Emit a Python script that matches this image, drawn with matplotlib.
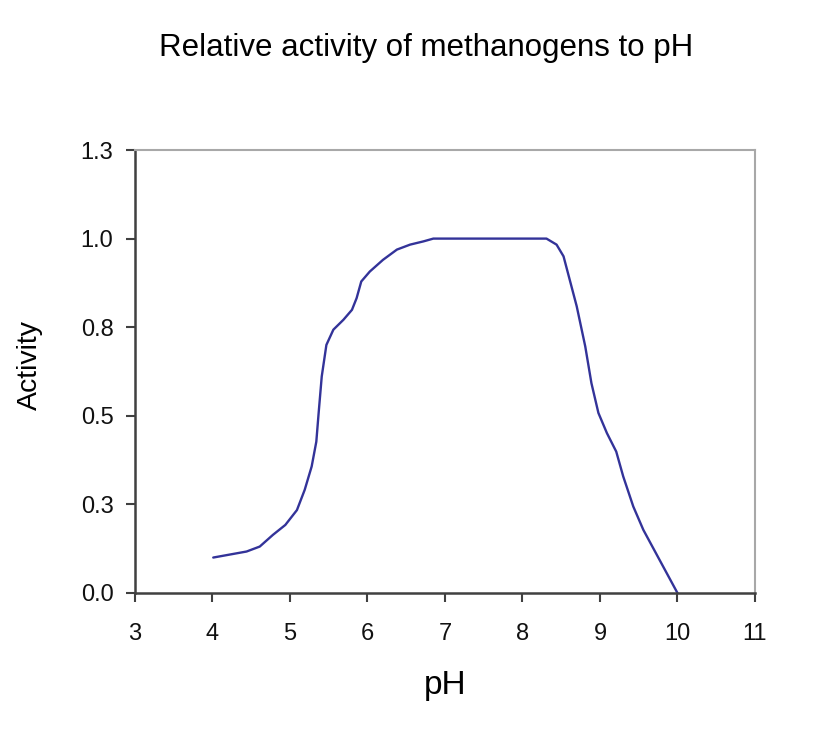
import matplotlib
matplotlib.use("Agg")
import matplotlib.pyplot as plt

plt.rcParams["font.family"] = ["Liberation Sans", "DejaVu Sans"]

# pH vs relative activity
ph = [4.01, 4.44, 4.61, 4.78, 4.94, 5.09, 5.19, 5.28, 5.34, 5.37, 5.41, 5.47,
      5.56, 5.69, 5.80, 5.86, 5.92, 6.03, 6.20, 6.38, 6.55, 6.72, 6.85,
      8.31, 8.44, 8.53, 8.70, 8.81, 8.89, 8.98, 9.09, 9.21, 9.30, 9.43,
      9.56, 9.77, 10.0]
activity = [0.100, 0.117, 0.131, 0.164, 0.192, 0.234, 0.291, 0.357, 0.427, 0.508,
            0.611, 0.700, 0.743, 0.771, 0.799, 0.832, 0.879, 0.907, 0.940, 0.969,
            0.983, 0.992, 1.0,
            1.0, 0.983, 0.950, 0.809, 0.696, 0.592, 0.508, 0.451, 0.399, 0.329,
            0.244, 0.178, 0.093, 0.0]

xticks = [3, 4, 5, 6, 7, 8, 9, 10, 11]
yticks = [0.0, 0.25, 0.5, 0.75, 1.0, 1.25]
ytick_labels = ["0.0", "0.3", "0.5", "0.8", "1.0", "1.3"]

fig = plt.figure(figsize=(8.19, 7.31), dpi=100)
ax = fig.add_axes([0.1648, 0.1888, 0.757, 0.606])
ax.plot(ph, activity, color="#333399", lw=1.7, solid_capstyle="round",
        solid_joinstyle="round")

ax.set_xlim(3, 11)
ax.set_ylim(0, 1.25)
ax.set_xticks(xticks)
ax.set_yticks(yticks)
ax.set_yticklabels(ytick_labels)
ax.tick_params(labelsize=17, length=6.5, width=1.5, color="#404040",
               labelcolor="#111111")
ax.tick_params(axis="x", pad=15)
ax.tick_params(axis="y", pad=9)

for s in ["left", "bottom"]:
    ax.spines[s].set_color("#404040")
    ax.spines[s].set_linewidth(1.8)
for s in ["top", "right"]:
    ax.spines[s].set_color("#a8a8a8")
    ax.spines[s].set_linewidth(1.5)

ax.set_xlabel("pH", fontsize=24, va="center")
ax.xaxis.set_label_coords(0.5, (593 - 686) / 443)
ax.set_ylabel("Activity", fontsize=20.5, va="center")
ax.yaxis.set_label_coords((30 - 135) / 620, 0.515)
fig.text(0.52, 0.935, "Relative activity of methanogens to pH", fontsize=22.5,
         ha="center", va="center")

fig.savefig("out.png", dpi=100)
